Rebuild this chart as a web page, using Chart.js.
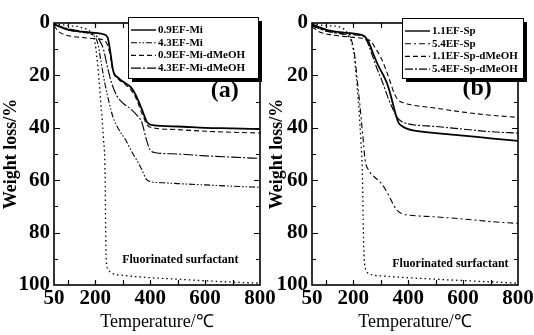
<!DOCTYPE html>
<html>
<head>
<meta charset="utf-8">
<script src="https://cdn.jsdelivr.net/npm/chart.js@4.4.1/dist/chart.umd.min.js"></script>
<style>
  body { margin: 0; background: #fff; }
  #wrap { position: relative; width: 534px; height: 335px; }
  #wrap canvas { position: absolute; left: 0; top: 0; }
</style>
</head>
<body>
<div id="wrap">
  <canvas id="chartA" width="534" height="335"></canvas>
  <canvas id="chartB" width="534" height="335"></canvas>
</div>
<script>
// axis ticks
const xTicks = [50, 100, 200, 300, 400, 500, 600, 700, 800];
const xLabels = [50, 200, 400, 600, 800];
const yTicks = [0, 10, 20, 30, 40, 50, 60, 70, 80, 90, 100];
const yLabels = [0, 20, 40, 60, 80, 100];

// panel (a) - temperature (C) / weight loss (%)
const mi09T = [50, 100, 150, 200, 230, 245, 255, 265, 285, 310, 330, 350, 370, 390, 410, 500, 600, 700, 800];
const mi09W = [0.5, 2.5, 3.3, 3.8, 4.3, 5.5, 11, 18, 21, 23, 24.5, 28, 33, 38, 39, 39.5, 40, 40.2, 40.5];
const mi43T = [50, 100, 150, 190, 200, 210, 220, 235, 250, 265, 285, 310, 335, 355, 370, 385, 400, 450, 500, 600, 700, 800];
const mi43W = [0.5, 2.5, 3.5, 4.5, 5.5, 8, 14, 23, 30, 36, 40.5, 44.5, 49.5, 53, 56, 59.5, 60.5, 61, 61.3, 61.8, 62.3, 62.7];
const mi09mT = [50, 70, 100, 150, 200, 230, 245, 255, 265, 285, 310, 330, 350, 370, 390, 410, 500, 600, 700, 800];
const mi09mW = [1, 3.5, 4.8, 5.5, 6, 6.5, 8.5, 12.5, 18.5, 21.5, 23.5, 25.5, 29, 34.5, 39, 40, 40.7, 41.3, 41.7, 42];
const mi43mT = [50, 100, 150, 200, 215, 230, 245, 260, 280, 300, 325, 350, 370, 385, 400, 420, 500, 600, 700, 800];
const mi43mW = [0.5, 2.2, 3.2, 4.5, 6.5, 10, 17, 23, 28, 30.5, 32.5, 35, 38, 44, 48.5, 49.5, 50, 50.7, 51.2, 51.7];
const surfAT = [50, 100, 150, 190, 200, 210, 220, 230, 236, 238, 240, 247, 260, 300, 400, 500, 600, 700, 800];
const surfAW = [0.3, 1, 1.8, 4.5, 8, 17, 30, 44, 58, 78, 90, 94, 95.5, 96.3, 97.2, 97.8, 98.4, 98.9, 99.3];

// panel (b)
const sp11T = [50, 100, 150, 200, 240, 255, 272, 290, 310, 323, 335, 345, 355, 365, 380, 400, 450, 500, 600, 700, 800];
const sp11W = [0.5, 2.5, 3.5, 4, 5, 7, 11.5, 16, 20, 23, 27, 31, 35, 38, 39.5, 40.5, 41.5, 42, 43, 44, 45];
const sp54T = [50, 100, 150, 180, 195, 205, 215, 225, 235, 243, 255, 270, 290, 305, 320, 335, 350, 365, 385, 400, 500, 600, 700, 800];
const sp54W = [1, 3, 4, 5, 7, 12, 22, 32, 43, 52, 56, 58, 60, 61.5, 64, 67, 70, 72, 73, 73.3, 74, 74.8, 75.8, 76.5];
const sp11mT = [50, 80, 120, 180, 240, 265, 280, 300, 320, 335, 350, 365, 385, 400, 500, 600, 700, 800];
const sp11mW = [1.5, 3.5, 4.5, 5.3, 6, 7, 9.5, 13, 18, 22.5, 27, 29.5, 30.5, 31, 32.5, 34, 35.2, 36];
const sp54mT = [50, 100, 150, 200, 235, 250, 265, 285, 308, 325, 345, 360, 375, 400, 500, 600, 700, 800];
const sp54mW = [1, 3, 4, 4.5, 5, 7, 11, 17, 23, 28, 33, 36, 37.5, 38.5, 39.5, 40.5, 41.5, 42];
const surfBT = [50, 100, 150, 185, 200, 215, 228, 234, 237, 240, 248, 265, 300, 400, 500, 600, 700, 800];
const surfBW = [0.3, 1, 1.5, 5, 10, 25, 45, 60, 80, 90, 94.5, 96, 96.5, 97.2, 97.8, 98.3, 98.8, 99.3];

const FONT = "'Liberation Serif', 'Times New Roman', serif";

function pts(t, w) {
    return t.map((x, i) => ({ x: x, y: w[i] }));
}

// box frame with inward ticks on all four sides
const frame = {
    id: 'frame',
    afterDatasetsDraw(chart) {
        const { ctx, chartArea: a, scales: { x, y } } = chart;
        ctx.save();
        ctx.strokeStyle = '#000';
        ctx.lineWidth = 1.6;
        ctx.strokeRect(a.left, a.top, a.right - a.left, a.bottom - a.top);
        ctx.lineWidth = 1.2;
        ctx.beginPath();
        xTicks.forEach(v => {
            if (v === 50 || v === 800) return;
            const px = Math.round(x.getPixelForValue(v)) + 0.5;
            ctx.moveTo(px, a.bottom); ctx.lineTo(px, a.bottom - 5);
            ctx.moveTo(px, a.top); ctx.lineTo(px, a.top + 5);
        });
        yTicks.forEach(v => {
            if (v === 0 || v === 100) return;
            const py = Math.round(y.getPixelForValue(v)) + 0.5;
            const len = v % 20 === 0 ? 6 : 4;
            ctx.moveTo(a.left, py); ctx.lineTo(a.left + len, py);
            ctx.moveTo(a.right, py); ctx.lineTo(a.right - len, py);
        });
        ctx.stroke();
        ctx.restore();
    }
};

// boxed legend with shadow, panel tag and note
const boxLegend = {
    id: 'boxLegend',
    afterDraw(chart, args, o) {
        const ctx = chart.ctx;
        ctx.save();
        ctx.fillStyle = '#000';
        ctx.fillRect(o.x + 4, o.y + 4, o.w, o.h);
        ctx.fillStyle = '#fff';
        ctx.fillRect(o.x, o.y, o.w, o.h);
        ctx.strokeStyle = '#000';
        ctx.lineWidth = 1;
        ctx.strokeRect(o.x + 0.5, o.y + 0.5, o.w, o.h);
        ctx.font = 'bold 11px ' + FONT;
        ctx.textBaseline = 'middle';
        ctx.fillStyle = '#000';
        chart.data.datasets.slice(0, 4).forEach((ds, i) => {
            const yy = o.y + 13 + i * 12.7;
            ctx.lineWidth = Math.min(ds.borderWidth, 1.4);
            ctx.setLineDash(ds.borderDash);
            ctx.beginPath();
            ctx.moveTo(o.x + 3, yy);
            ctx.lineTo(o.x + 28, yy);
            ctx.stroke();
            ctx.setLineDash([]);
            ctx.fillText(ds.label, o.x + 30, yy);
        });
        const { x, y } = chart.scales;
        ctx.textAlign = 'center';
        ctx.font = 'bold 24px ' + FONT;
        ctx.fillText(o.tag, x.getPixelForValue(o.tagAt[0]), y.getPixelForValue(o.tagAt[1]));
        ctx.font = 'bold 12px ' + FONT;
        ctx.fillText(o.note, x.getPixelForValue(o.noteAt[0]), y.getPixelForValue(o.noteAt[1]));
        ctx.restore();
    }
};

function makeChart(id, series, cfg) {
    return new Chart(document.getElementById(id), {
        type: 'line',
        data: {
            datasets: series.map(s => ({
                label: s.label,
                data: pts(s.t, s.w),
                borderColor: '#000',
                borderWidth: s.width,
                borderDash: s.dash,
                pointRadius: 0,
                fill: false,
                cubicInterpolationMode: 'monotone'
            }))
        },
        options: {
            responsive: false,
            animation: false,
            devicePixelRatio: 1,
            layout: { padding: { left: cfg.padLeft, right: cfg.padRight, top: 23, bottom: 0 } },
            plugins: {
                legend: { display: false },
                tooltip: { enabled: false },
                boxLegend: cfg.legend
            },
            scales: {
                x: {
                    type: 'linear', min: 50, max: 800,
                    grid: { display: false, drawTicks: false },
                    border: { display: false },
                    afterBuildTicks: s => { s.ticks = xTicks.map(v => ({ value: v })); },
                    afterFit: s => { s.height = 50; s.paddingLeft = 0; s.paddingRight = 0; },
                    ticks: {
                        autoSkip: false, maxRotation: 0, padding: 1, color: '#000',
                        font: { family: FONT, size: 21, weight: 'bold' },
                        callback: v => xLabels.includes(v) ? String(v) : ''
                    },
                    title: {
                        display: true, text: 'Temperature/℃', color: '#000',
                        font: { family: FONT, size: 18 },
                        padding: { top: 0, bottom: 2 }
                    }
                },
                y: {
                    type: 'linear', min: 0, max: 100, reverse: true,
                    grid: { display: false, drawTicks: false },
                    border: { display: false },
                    afterBuildTicks: s => { s.ticks = yTicks.map(v => ({ value: v })); },
                    afterFit: s => { s.width = cfg.yWidth; s.paddingTop = 0; s.paddingBottom = 0; },
                    ticks: {
                        autoSkip: false, padding: 4, color: '#000',
                        font: { family: FONT, size: 21, weight: 'bold' },
                        callback: v => yLabels.includes(v) ? String(v) : ''
                    },
                    title: {
                        display: true, text: 'Weight loss/%', color: '#000',
                        font: { family: FONT, size: 18, weight: 'bold' },
                        padding: { top: cfg.titlePad, bottom: 0 }
                    }
                }
            }
        },
        plugins: [frame, boxLegend]
    });
}

makeChart('chartA', [
    { label: '0.9EF-Mi', t: mi09T, w: mi09W, width: 1.8, dash: [] },
    { label: '4.3EF-Mi', t: mi43T, w: mi43W, width: 1.1, dash: [6, 2, 1.5, 2, 1.5, 2] },
    { label: '0.9EF-Mi-dMeOH', t: mi09mT, w: mi09mW, width: 1.1, dash: [5, 3] },
    { label: '4.3EF-Mi-dMeOH', t: mi43mT, w: mi43mW, width: 1.1, dash: [10, 2, 2, 2] },
    { label: 'Fluorinated surfactant', t: surfAT, w: surfAW, width: 1.3, dash: [1.5, 3] }
], {
    padLeft: 0, padRight: 274, yWidth: 54, titlePad: 1,
    legend: { x: 128, y: 17, w: 130, h: 61, tag: '(a)', tagAt: [672, 26], note: 'Fluorinated surfactant', noteAt: [510, 90.5] }
});

makeChart('chartB', [
    { label: '1.1EF-Sp', t: sp11T, w: sp11W, width: 1.8, dash: [] },
    { label: '5.4EF-Sp', t: sp54T, w: sp54W, width: 1.1, dash: [6, 3, 2, 3] },
    { label: '1.1EF-Sp-dMeOH', t: sp11mT, w: sp11mW, width: 1.1, dash: [5, 3] },
    { label: '5.4EF-Sp-dMeOH', t: sp54mT, w: sp54mW, width: 1.1, dash: [8, 2, 2, 2] },
    { label: 'Fluorinated surfactant', t: surfBT, w: surfBW, width: 1.3, dash: [1.5, 3] }
], {
    padLeft: 267, padRight: 16, yWidth: 45, titlePad: 0,
    legend: { x: 402, y: 18, w: 121, h: 60, tag: '(b)', tagAt: [651, 25], note: 'Fluorinated surfactant', noteAt: [554, 92] }
});
</script>
</body>
</html>
